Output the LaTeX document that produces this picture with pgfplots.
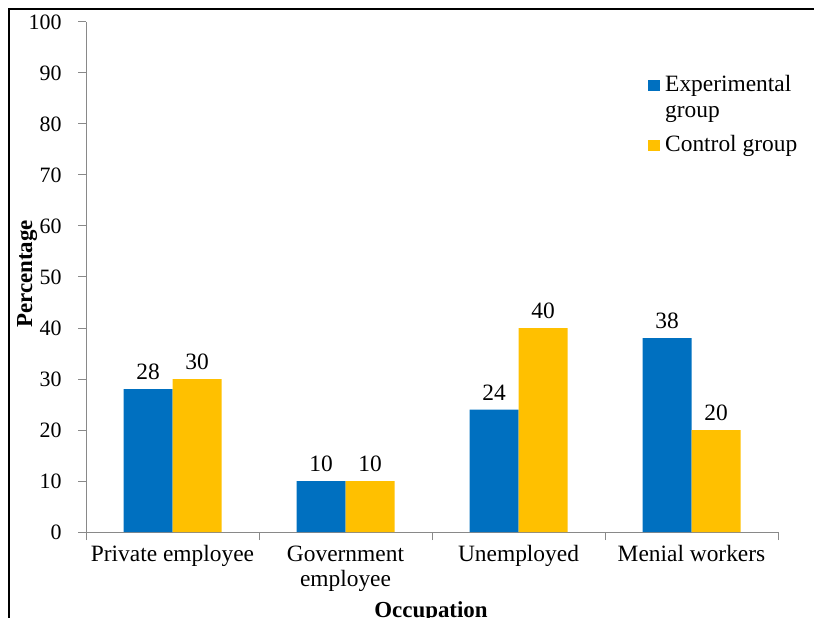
\documentclass[border=0pt]{standalone}
\usepackage{fontspec}
\setmainfont{Liberation Serif}
\usepackage{pgfplots}
\pgfplotsset{compat=1.18}
\definecolor{expblue}{HTML}{0070C0}
\definecolor{ctlyellow}{HTML}{FFC000}
\definecolor{axgray}{HTML}{898989}
\begin{document}
\begin{tikzpicture}[x=1bp,y=1bp]
\useasboundingbox (0,0) rectangle (814,-618);
\coordinate (O) at (86,-532);
\draw[line width=2.6bp] (9,-630) -- (9,-9) -- (830,-9);
\begin{axis}[
  at={(O)}, anchor=south west,
  scale only axis, width=692bp, height=510bp,
  xmin=-0.5, xmax=3.5, ymin=0, ymax=100,
  ybar=0pt, bar width=49bp,
  axis lines*=left,
  axis line style={axgray, line width=1bp, -},
  every tick/.style={axgray, line width=1bp},
  ytick={0,10,...,100},
  xtick={0,1,2,3},
  xticklabels={Private employee, {Government\\employee}, Unemployed, Menial workers},
  minor xtick={-0.5,0.5,1.5,2.5,3.5},
  major x tick style={draw=none},
  minor x tick style={axgray, line width=1bp},
  tick align=outside, major tick length=8bp, minor tick length=8bp,
  /pgf/number format/assume math mode=true,
  yticklabel style={font=\fontsize{22}{25}\selectfont, xshift=-13bp},
  xticklabel style={font=\fontsize{23.5}{26}\selectfont, align=center, yshift=-2bp},
  nodes near coords,
  every node near coord/.append style={font=\fontsize{23.5}{26}\selectfont, yshift=6bp, black},
  clip=false,
]
\addplot[fill=expblue, draw=none] coordinates {(0,28) (1,10) (2,24) (3,38)};
\addplot[fill=ctlyellow, draw=none] coordinates {(0,30) (1,10) (2,40) (3,20)};
\end{axis}
\fill[expblue] (648,-80) rectangle (660,-91);
\fill[ctlyellow] (648,-140) rectangle (660,-151);
\node[anchor=base west, inner sep=0, font=\fontsize{23.5}{26}\selectfont] at (665,-92) {Experimental};
\node[anchor=base west, inner sep=0, font=\fontsize{23.5}{26}\selectfont] at (665,-118) {group};
\node[anchor=base west, inner sep=0, font=\fontsize{23.5}{26}\selectfont] at (665,-152) {Control group};
\node[rotate=90, anchor=base, inner sep=0, font=\bfseries\fontsize{23}{26}\selectfont] at (32,-274) {Percentage};
\node[anchor=base, inner sep=0, font=\bfseries\fontsize{23}{26}\selectfont] at (431,-617) {Occupation};
\end{tikzpicture}
\end{document}
